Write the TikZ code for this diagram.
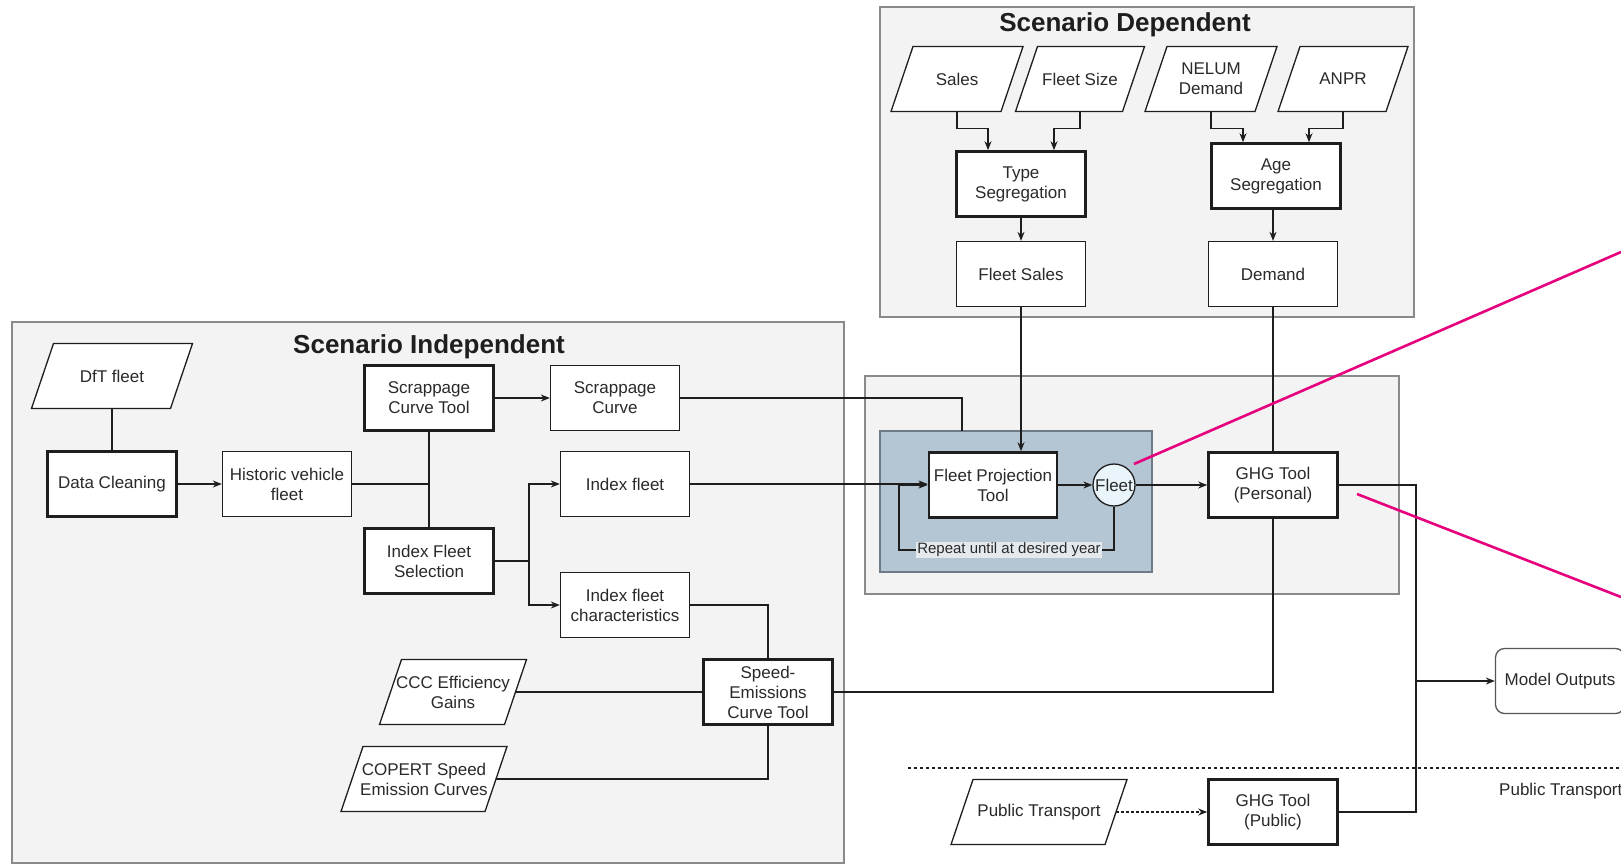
\documentclass[tikz,border=0pt]{standalone}
\usepackage{fontspec}
\setmainfont{Liberation Sans}
\usetikzlibrary{arrows.meta,calc}
\definecolor{ink}{HTML}{1E1E1E}
\definecolor{txt}{HTML}{2A2A2A}
\definecolor{grpfill}{HTML}{F3F3F3}
\definecolor{grpline}{HTML}{8A8A8A}
\definecolor{projfill}{HTML}{B4C5D3}
\definecolor{projline}{HTML}{6E7A85}
\definecolor{circfill}{HTML}{EAF5FB}
\definecolor{magline}{HTML}{E6007E}
\definecolor{lblfill}{HTML}{E4E9EE}
\newcommand\dgmfont{\fontsize{17}{20}\selectfont}
\newcommand\dgmsmall{\fontsize{15}{18}\selectfont}
\newcommand\dgmtitle{\fontsize{26}{30}\selectfont\bfseries}
\tikzset{
  grp/.style={draw=grpline, line width=1.3pt, fill=grpfill, inner sep=0pt},
  projbox/.style={draw=projline, line width=1.3pt, fill=projfill, inner sep=0pt},
  box/.style={draw=ink, line width=1.3pt, fill=white, minimum width=129pt, minimum height=65pt,
    inner sep=0pt, align=center, font=\dgmfont, text=txt},
  tbox/.style={box, line width=2.6pt},
  rbox/.style={box, draw=ink!75, rounded corners=9pt},
  ptext/.style={minimum height=65pt, inner sep=0pt, align=center, font=\dgmfont, text=txt},
  pgshape/.style={draw=ink, fill=white, line width=1.3pt},
  circ/.style={circle, draw=ink, line width=1.3pt, fill=circfill, minimum size=42pt, inner sep=0pt,
    font=\dgmfont, text=txt},
  ttl/.style={font=\dgmtitle, text=ink, inner sep=0pt},
  conn/.style={draw=ink, line width=1.3pt},
  arr/.style={conn, -{Stealth[length=9pt,width=7pt]}},
  dotarr/.style={conn, dash pattern=on 2.5pt off 2.5pt, -{Stealth[length=9pt,width=7pt]}},
  sepline/.style={draw=ink, line width=1.2pt, dash pattern=on 3pt off 3pt},
  lbl/.style={fill=lblfill, inner sep=1pt, font=\dgmsmall, text=txt},
  magl/.style={draw=magline, line width=2.6pt},
}
\newcommand\pgram[5]{%
  \filldraw[pgshape] ({#2-#4/2-11},{#3+32.5}) -- ({#2+#4/2-11},{#3+32.5})
    -- ({#2+#4/2+11},{#3-32.5}) -- ({#2-#4/2+11},{#3-32.5}) -- cycle;
  \node[ptext, minimum width=#4pt] (#1) at (#2,#3) {#5};}
\begin{document}
\begin{tikzpicture}[x=1pt,y=-1pt]
\useasboundingbox (0,0) rectangle (1621,865);
\clip (0,0) rectangle (1621,865);
\fill[white] (0,0) rectangle (1621,865);

% groups
\node[grp, minimum width=534pt, minimum height=310pt] (sdg) at (1147,162) {};
\node[ttl] (sdt) at (1125,25) {Scenario Dependent};
\node[grp, minimum width=832pt, minimum height=541pt] (sig) at (428,592.5) {};
\node[ttl] (sit) at (429,347) {Scenario Independent};
\node[grp, minimum width=534pt, minimum height=218pt] (fpg) at (1132,485) {};
\node[projbox, minimum width=272pt, minimum height=141pt] (inner) at (1016,501.5) {};

% scenario dependent
\pgram{sales}{957}{79}{110}{Sales}
\pgram{fsize}{1080}{79}{107}{Fleet Size}
\pgram{nelum}{1211}{79}{110}{NELUM\\Demand}
\pgram{anpr}{1343}{79}{108}{ANPR}
\node[tbox] (tseg) at (1021,184) {Type\\Segregation};
\node[box] (fsales) at (1021,274) {Fleet Sales};
\node[tbox] (aseg) at (1276,176) {Age\\Segregation};
\node[box] (dem) at (1273,274) {Demand};

% scenario independent
\pgram{dft}{112}{376}{139}{DfT fleet}
\node[tbox] (dclean) at (112,484) {Data Cleaning};
\node[box] (hist) at (287,484) {Historic vehicle\\fleet};
\node[tbox] (sct) at (429,398) {Scrappage\\Curve Tool};
\node[tbox] (ifs) at (429,561) {Index Fleet\\Selection};
\node[box] (scurve) at (615,398) {Scrappage\\Curve};
\node[box] (ifleet) at (625,484) {Index fleet};
\node[box] (ifc) at (625,605) {Index fleet\\characteristics};
\node[tbox] (spd) at (768,692) {Speed-\\Emissions\\Curve Tool};
\pgram{ccc}{453}{692}{125}{CCC Efficiency\\Gains}
\pgram{cop}{424}{779}{144}{COPERT Speed\\Emission Curves}

% projection and outputs
\node[tbox, minimum width=128pt] (fpt) at (993,485) {Fleet Projection\\Tool};
\node[circ] (fleet) at (1114,485) {Fleet};
\node[tbox] (ghg) at (1273,485) {GHG Tool\\(Personal)};
\node[rbox] (mo) at (1560,681) {Model Outputs};
\pgram{ptp}{1039}{812}{154}{Public Transport}
\node[tbox] (ghgp) at (1273,812) {GHG Tool\\(Public)};
\node[anchor=west, font=\dgmfont, text=txt, inner sep=0pt] (ptl) at (1499,791) {Public Transport};

% coordinates
\coordinate (br) at (529,561);
\coordinate (scend) at (962,431);
\coordinate (lp) at (899,550);
\coordinate (bus) at (1416,681);
\coordinate (sepa) at (908,768);
\coordinate (sepb) at (1621,768);
\coordinate (m1a) at (1134,464);
\coordinate (m1b) at (1621,252);
\coordinate (m2a) at (1357,494);
\coordinate (m2b) at (1621,597);

% connectors: scenario dependent
\draw[arr] (sales.south) -- ++(0,17) -| ([xshift=-33pt]tseg.north);
\draw[arr] (fsize.south) -- ++(0,17) -| ([xshift=33pt]tseg.north);
\draw[arr] (nelum.south) -- ++(0,17) -| ([xshift=-33pt]aseg.north);
\draw[arr] (anpr.south) -- ++(0,17) -| ([xshift=33pt]aseg.north);
\draw[arr] (tseg.south) -- (fsales.north);
\draw[arr] (dem.north |- aseg.south) -- (dem.north);

% connectors: scenario independent
\draw[conn] (dft.south) -- (dclean.north);
\draw[arr] (dclean.east) -- (hist.west);
\draw[conn] (hist.east) -- (hist.east -| sct.south);
\draw[conn] (sct.south) -- (ifs.north);
\draw[arr] (sct.east) -- (scurve.west);
\draw[conn] (ifs.east) -- (br);
\draw[arr] (br) |- (ifleet.west);
\draw[arr] (br) |- (ifc.west);
\draw[conn] (ifc.east) -| (spd.north);
\draw[conn] (ccc.east) -- (spd.west);
\draw[conn] (cop.east) -| (spd.south);
\draw[conn] (spd.east) -| (ghg.south);

% connectors: projection
\draw[conn] (scurve.east) -| (scend);
\draw[arr] (fsales.south) -- (fsales.south |- fpt.north);
\draw[arr] (ifleet.east) -- (ifleet.east -| fpt.west);
\draw[arr] (fleet.south) |- (lp) |- (fpt.west);
\node[lbl] (rep) at (1009,550) {Repeat until at desired year};
\draw[arr] (fpt.east) -- (fleet.west);
\draw[arr] (fleet.east) -- (ghg.west);
\draw[conn] (dem.south) -- (ghg.north);
\draw[conn] (ghg.east) -| (bus) |- (ghgp.east);
\draw[arr] (bus) -- (mo.west);
\draw[sepline] (sepa) -- (sepb);
\draw[dotarr] (ptp.east) -- (ghgp.west);

% callout lines
\draw[magl] (m1a) -- (m1b);
\draw[magl] (m2a) -- (m2b);
\end{tikzpicture}
\end{document}
